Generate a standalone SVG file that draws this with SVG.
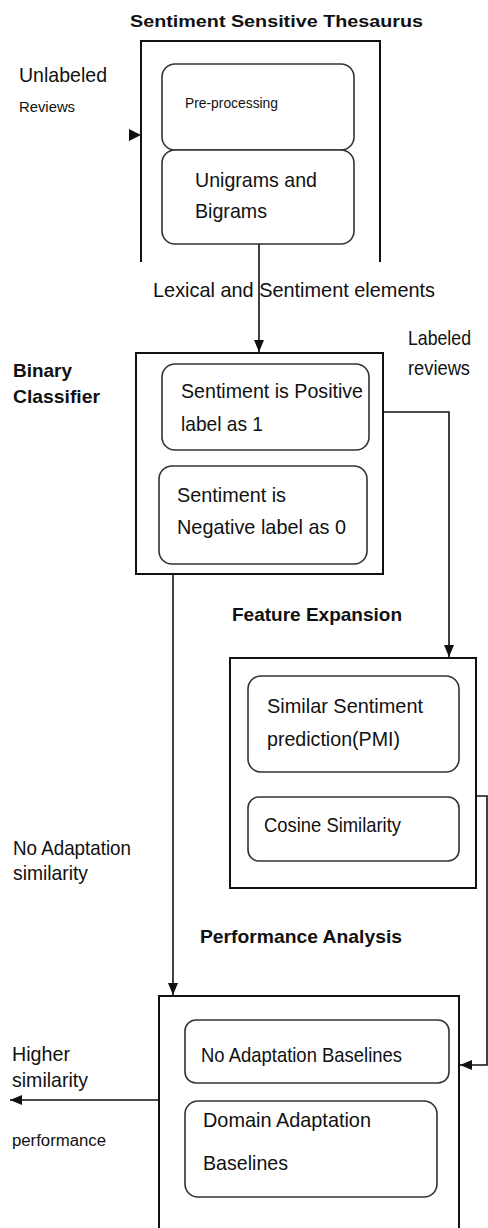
<svg xmlns="http://www.w3.org/2000/svg" width="488" height="1228" viewBox="0 0 488 1228">
  <style>
    .t { font-family: "Liberation Sans", Arial, sans-serif; font-size: 21px; fill: #111; }
    .s { font-size: 14px; }
    .m { font-size: 16px; }
    .b { font-family: "Liberation Sans", Arial, sans-serif; font-weight: bold; font-size: 19px; fill: #111; }
    .box { fill: none; stroke: #111; stroke-width: 2; }
    .rr { fill: #fff; stroke: #333; stroke-width: 1.6; }
    .ln { fill: none; stroke: #111; stroke-width: 1.6; }
  </style>
  <defs>
    <marker id="arrow" viewBox="0 0 12 10" refX="12" refY="5" markerWidth="12" markerHeight="10" markerUnits="userSpaceOnUse" orient="auto">
      <path d="M0,0 L12,5 L0,10 Z" fill="#111"/>
    </marker>
  </defs>
  <rect width="488" height="1228" fill="#fff"/>

  <!-- Sentiment Sensitive Thesaurus -->
  <g id="thesaurus">
    <text class="b" x="130" y="27" style="font-size:17px" textLength="293" lengthAdjust="spacingAndGlyphs">Sentiment Sensitive Thesaurus</text>
    <path class="box" d="M141,262 V41 H380 V262"/>
    <rect class="rr" x="162" y="64" width="192" height="86" rx="13"/>
    <text class="t s" x="185" y="108" textLength="93" lengthAdjust="spacingAndGlyphs">Pre-processing</text>
    <rect class="rr" x="162" y="150" width="192" height="94" rx="13"/>
    <text class="t" x="195" y="187" textLength="122" lengthAdjust="spacingAndGlyphs">Unigrams and</text>
    <text class="t" x="195" y="218" textLength="72" lengthAdjust="spacingAndGlyphs">Bigrams</text>
  </g>

  <!-- Unlabeled input -->
  <g id="unlabeled">
    <text class="t" x="19" y="82" textLength="88" lengthAdjust="spacingAndGlyphs">Unlabeled</text>
    <text class="t" x="19" y="112" style="font-size:15px" textLength="56" lengthAdjust="spacingAndGlyphs">Reviews</text>
  </g>

  <!-- Binary Classifier -->
  <g id="binary">
    <text class="b" x="13" y="377" textLength="59" lengthAdjust="spacingAndGlyphs">Binary</text>
    <text class="b" x="13" y="403" textLength="87" lengthAdjust="spacingAndGlyphs">Classifier</text>
    <rect class="box" x="136" y="353" width="247" height="221"/>
    <rect class="rr" x="162" y="364" width="207" height="86" rx="13"/>
    <text class="t" x="181" y="398" textLength="182" lengthAdjust="spacingAndGlyphs">Sentiment is Positive</text>
    <text class="t" x="181" y="431" textLength="82" lengthAdjust="spacingAndGlyphs">label as 1</text>
    <rect class="rr" x="159" y="466" width="208" height="98" rx="13"/>
    <text class="t" x="177" y="502" textLength="109" lengthAdjust="spacingAndGlyphs">Sentiment is</text>
    <text class="t" x="177" y="534" textLength="169" lengthAdjust="spacingAndGlyphs">Negative label as 0</text>
  </g>

  <!-- Feature Expansion -->
  <g id="feature">
    <text class="b" x="232" y="621" textLength="170" lengthAdjust="spacingAndGlyphs">Feature Expansion</text>
    <rect class="box" x="230" y="658" width="246" height="230"/>
    <rect class="rr" x="248" y="676" width="211" height="96" rx="13"/>
    <text class="t" x="267" y="713" textLength="156" lengthAdjust="spacingAndGlyphs">Similar Sentiment</text>
    <text class="t" x="267" y="746" textLength="133" lengthAdjust="spacingAndGlyphs">prediction(PMI)</text>
    <rect class="rr" x="248" y="797" width="211" height="64" rx="11"/>
    <text class="t" x="264" y="832" textLength="137" lengthAdjust="spacingAndGlyphs">Cosine Similarity</text>
  </g>

  <!-- Performance Analysis -->
  <g id="performance">
    <text class="b" x="200" y="943" textLength="202" lengthAdjust="spacingAndGlyphs">Performance Analysis</text>
    <path class="box" d="M159,1230 V996 H459 V1230"/>
    <rect class="rr" x="185" y="1020" width="264" height="63" rx="11"/>
    <text class="t" x="201" y="1062" textLength="201" lengthAdjust="spacingAndGlyphs">No Adaptation Baselines</text>
    <rect class="rr" x="185" y="1101" width="252" height="96" rx="13"/>
    <text class="t" x="203" y="1127" textLength="168" lengthAdjust="spacingAndGlyphs">Domain Adaptation</text>
    <text class="t" x="203" y="1170" textLength="85" lengthAdjust="spacingAndGlyphs">Baselines</text>
  </g>

  <!-- Edge labels -->
  <g id="labels">
    <text class="t" x="153" y="297" textLength="282" lengthAdjust="spacingAndGlyphs">Lexical and Sentiment elements</text>
    <text class="t" x="408" y="345" textLength="63" lengthAdjust="spacingAndGlyphs">Labeled</text>
    <text class="t" x="408" y="375" textLength="62" lengthAdjust="spacingAndGlyphs">reviews</text>
    <text class="t" x="13" y="855" textLength="118" lengthAdjust="spacingAndGlyphs">No Adaptation</text>
    <text class="t" x="13" y="880" textLength="75" lengthAdjust="spacingAndGlyphs">similarity</text>
    <text class="t" x="12" y="1061" textLength="58" lengthAdjust="spacingAndGlyphs">Higher</text>
    <text class="t" x="12" y="1087" textLength="76" lengthAdjust="spacingAndGlyphs">similarity</text>
    <text class="t m" x="12" y="1146" textLength="94" lengthAdjust="spacingAndGlyphs">performance</text>
  </g>

  <!-- Connectors -->
  <g id="connectors">
    <path d="M129,129 L141,135 L129,141 Z" fill="#111"/>
    <path class="ln" d="M259,244 V352" marker-end="url(#arrow)"/>
    <path class="ln" d="M383,412 H449 V657" marker-end="url(#arrow)"/>
    <path class="ln" d="M476,796 H487 V1065 H460" marker-end="url(#arrow)"/>
    <path class="ln" d="M173,575 V995" marker-end="url(#arrow)"/>
    <path class="ln" d="M159,1100 H10" marker-end="url(#arrow)"/>
  </g>
</svg>
